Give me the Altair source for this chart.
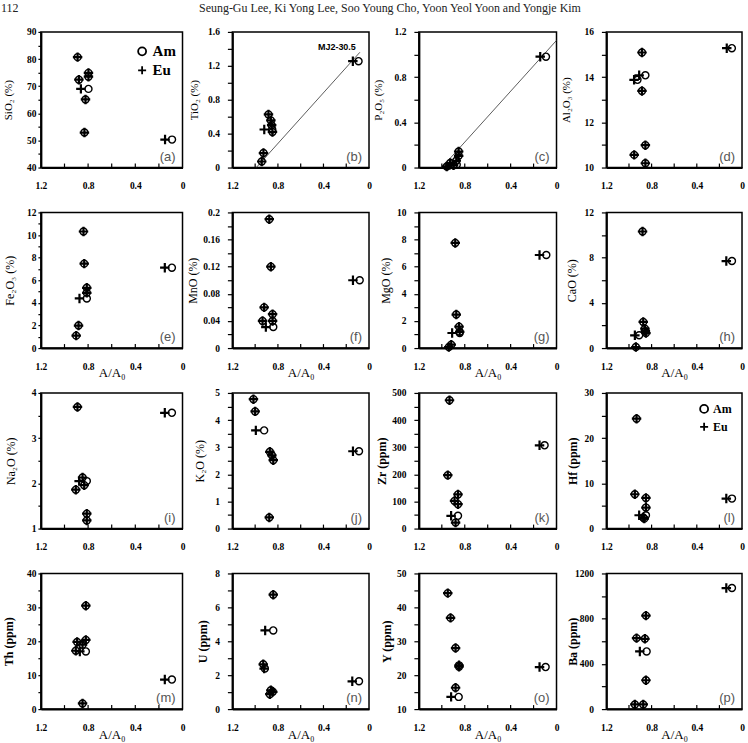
import altair as alt
import pandas as pd

SERIF = "Liberation Serif"
SANS = "Liberation Sans"
METHODS = ["Am", "Eu"]
PLUS = "M-1,0L1,0M0,-1L0,1"

# Running head of the page
PAGE_NUMBER = "112"
AUTHORS = "Seung-Gu Lee, Ki Yong Lee, Soo Young Cho, Yoon Yeol Yoon and Yongje Kim"

# Concentration of each sample with its A/A0 from the Am and the Eu tracer
SIO2 = [80.7, 72.4, 74.9, 73.5, 69.0, 65.1, 52.9, 50.3]
SIO2_AM = [0.889, 0.878, 0.797, 0.797, 0.797, 0.822, 0.831, 0.089]
SIO2_EU = [0.889, 0.878, 0.797, 0.797, 0.861, 0.822, 0.831, 0.148]

TIO2 = [0.627, 0.556, 0.50, 0.449, 0.42, 0.171, 0.071, 1.255]
TIO2_AM = [0.883, 0.862, 0.855, 0.85, 0.848, 0.927, 0.942, 0.092]
TIO2_EU = [0.883, 0.862, 0.855, 0.92, 0.848, 0.927, 0.942, 0.142]

P2O5 = [0.142, 0.104, 0.06, 0.04, 0.024, 0.01, 0.02, 0.981]
P2O5_AM = [0.853, 0.853, 0.874, 0.927, 0.87, 0.957, 0.898, 0.092]
P2O5_EU = [0.853, 0.853, 0.874, 0.927, 0.93, 0.957, 0.898, 0.142]

AL2O3 = [15.09, 13.88, 14.08, 13.39, 10.99, 10.56, 10.19, 15.28]
AL2O3_AM = [0.885, 0.925, 0.855, 0.885, 0.855, 0.954, 0.855, 0.09]
AL2O3_EU = [0.885, 0.955, 0.91, 0.885, 0.855, 0.954, 0.855, 0.135]

FE2O3 = [10.31, 7.47, 5.33, 4.89, 4.39, 1.99, 1.10, 7.11]
FE2O3_AM = [0.839, 0.833, 0.811, 0.811, 0.811, 0.881, 0.901, 0.090]
FE2O3_EU = [0.839, 0.833, 0.811, 0.811, 0.873, 0.881, 0.901, 0.150]

MNO = [0.190, 0.120, 0.060, 0.050, 0.040, 0.040, 0.031, 0.100]
MNO_AM = [0.876, 0.862, 0.921, 0.847, 0.935, 0.847, 0.841, 0.082]
MNO_EU = [0.876, 0.862, 0.921, 0.847, 0.935, 0.847, 0.906, 0.141]

MGO = [7.75, 2.47, 1.58, 1.20, 1.11, 0.25, 0.07, 6.86]
MGO_AM = [0.883, 0.874, 0.850, 0.844, 0.844, 0.918, 0.939, 0.089]
MGO_EU = [0.883, 0.874, 0.850, 0.844, 0.910, 0.918, 0.939, 0.148]

CAO = [10.31, 2.31, 1.72, 1.50, 1.33, 1.13, 0.09, 7.70]
CAO_AM = [0.880, 0.874, 0.859, 0.855, 0.850, 0.910, 0.939, 0.089]
CAO_EU = [0.880, 0.874, 0.859, 0.855, 0.850, 0.948, 0.939, 0.139]

NA2O = [3.69, 2.13, 1.96, 2.05, 1.86, 1.33, 1.18, 3.56]
NA2O_AM = [0.890, 0.847, 0.833, 0.811, 0.904, 0.811, 0.811, 0.090]
NA2O_EU = [0.890, 0.847, 0.833, 0.876, 0.904, 0.811, 0.811, 0.150]

K2O = [4.77, 4.32, 3.62, 2.83, 2.70, 2.52, 0.41, 2.85]
K2O_AM = [1.015, 1.000, 0.921, 0.871, 0.853, 0.841, 0.876, 0.088]
K2O_EU = [1.015, 1.000, 0.994, 0.871, 0.853, 0.841, 0.876, 0.141]

ZR = [473, 197, 126, 102, 90, 47, 22, 307]
ZR_AM = [0.933, 0.948, 0.859, 0.889, 0.859, 0.859, 0.880, 0.104]
ZR_EU = [0.933, 0.948, 0.859, 0.889, 0.859, 0.919, 0.880, 0.148]

HF = [24.3, 7.59, 6.78, 4.64, 2.95, 2.43, 2.20, 6.63]
HF_AM = [0.933, 0.948, 0.850, 0.850, 0.850, 0.874, 0.865, 0.089]
HF_EU = [0.933, 0.948, 0.850, 0.850, 0.910, 0.874, 0.865, 0.139]

TH = [30.5, 20.4, 19.8, 19.0, 17.2, 17.0, 1.66, 8.70]
TH_AM = [0.819, 0.819, 0.893, 0.847, 0.904, 0.819, 0.847, 0.090]
TH_EU = [0.819, 0.819, 0.893, 0.847, 0.904, 0.870, 0.847, 0.150]

U = [6.75, 4.64, 2.64, 2.39, 1.11, 1.02, 0.88, 1.64]
U_AM = [0.841, 0.841, 0.929, 0.915, 0.862, 0.845, 0.871, 0.088]
U_EU = [0.841, 0.912, 0.929, 0.921, 0.862, 0.845, 0.871, 0.147]

Y = [44.2, 36.9, 28.0, 22.9, 22.5, 16.3, 13.6, 22.4]
Y_AM = [0.948, 0.924, 0.880, 0.850, 0.850, 0.880, 0.853, 0.095]
Y_EU = [0.948, 0.924, 0.880, 0.850, 0.850, 0.880, 0.919, 0.148]

BA = [827, 628, 622, 510, 255, 41, 41, 1071]
BA_AM = [0.850, 0.933, 0.859, 0.844, 0.850, 0.948, 0.874, 0.089]
BA_EU = [0.850, 0.933, 0.859, 0.904, 0.850, 0.948, 0.874, 0.139]

# Trend lines through the low-A/A0 samples and MJ2-30.5
TIO2_FIT_X = [0.99, 0.08]
TIO2_FIT_Y = [0.0, 1.36]
P2O5_FIT_X = [1.0, 0.0]
P2O5_FIT_Y = [0.0, 1.125]
MJ2_LABEL = "MJ2-30.5"

X_LABELS = [1.2, 0.8, 0.4, 0.0]
X_MINOR = [1.0, 0.8, 0.6, 0.4, 0.2]
X_TITLE = "A/A₀"

PANELS = [
    dict(tag="a", title="SiO₂ (%)", v=SIO2, am=SIO2_AM, eu=SIO2_EU, dom=(40, 90), major=10, minor=5, tx=-32, bold=False,
         legend=(94, 12, 15)),
    dict(tag="b", title="TiO₂ (%)", v=TIO2, am=TIO2_AM, eu=TIO2_EU, dom=(0, 1.6), major=0.4, minor=0.2, tx=-38, bold=False,
         fit=(TIO2_FIT_X, TIO2_FIT_Y), note=True),
    dict(tag="c", title="P₂O₅ (%)", v=P2O5, am=P2O5_AM, eu=P2O5_EU, dom=(0, 1.2), major=0.4, minor=0.2, tx=-40, bold=False,
         fit=(P2O5_FIT_X, P2O5_FIT_Y)),
    dict(tag="d", title="Al₂O₃ (%)", v=AL2O3, am=AL2O3_AM, eu=AL2O3_EU, dom=(10, 16), major=2, minor=1, tx=-40, bold=False),
    dict(tag="e", title="Fe₂O₃ (%)", v=FE2O3, am=FE2O3_AM, eu=FE2O3_EU, dom=(0, 12), major=2, minor=1, tx=-31, bold=False),
    dict(tag="f", title="MnO (%)", v=MNO, am=MNO_AM, eu=MNO_EU, dom=(0, 0.2), major=0.04, minor=0.02, tx=-40, bold=False),
    dict(tag="g", title="MgO (%)", v=MGO, am=MGO_AM, eu=MGO_EU, dom=(0, 10), major=2, minor=1, tx=-33, bold=False),
    dict(tag="h", title="CaO (%)", v=CAO, am=CAO_AM, eu=CAO_EU, dom=(0, 12), major=4, minor=2, tx=-35, bold=False),
    dict(tag="i", title="Na₂O (%)", v=NA2O, am=NA2O_AM, eu=NA2O_EU, dom=(1, 4), major=1, minor=0.5, tx=-30, bold=False),
    dict(tag="j", title="K₂O (%)", v=K2O, am=K2O_AM, eu=K2O_EU, dom=(0, 5), major=1, minor=0.5, tx=-33, bold=False),
    dict(tag="k", title="Zr (ppm)", v=ZR, am=ZR_AM, eu=ZR_EU, dom=(0, 500), major=100, minor=50, tx=-37, bold=True),
    dict(tag="l", title="Hf (ppm)", v=HF, am=HF_AM, eu=HF_EU, dom=(0, 30), major=10, minor=5, tx=-34, bold=True,
         legend=(92, 10, 12)),
    dict(tag="m", title="Th (ppm)", v=TH, am=TH_AM, eu=TH_EU, dom=(0, 40), major=10, minor=5, tx=-32, bold=True),
    dict(tag="n", title="U (ppm)", v=U, am=U_AM, eu=U_EU, dom=(0, 8), major=2, minor=1, tx=-30, bold=True),
    dict(tag="o", title="Y (ppm)", v=Y, am=Y_AM, eu=Y_EU, dom=(10, 50), major=10, minor=5, tx=-32, bold=True),
    dict(tag="p", title="Ba (ppm)", v=BA, am=BA_AM, eu=BA_EU, dom=(0, 1200), major=400, minor=200, tx=-34, bold=True),
]

COL_W = [142, 137, 138, 136]
ROW_H = 136
X_TITLE_ROWS = {1, 3}


def build_panel(idx, p):
    col, row = idx % 4, idx // 4
    w, h = COL_W[col], ROW_H
    n = len(p["v"])
    pts = pd.DataFrame({
        "ratio": list(p["am"]) + list(p["eu"]),
        "value": list(p["v"]) * 2,
        "method": ["Am"] * n + ["Eu"] * n,
    })

    lo, hi = p["dom"]
    steps = int(round((hi - lo) / p["minor"]))
    yticks = [round(lo + k * p["minor"], 6) for k in range(steps + 1)]
    major = p["major"]
    label_expr = (f"abs(datum.value / {major} - round(datum.value / {major})) < 1e-6"
                  f" ? format(datum.value, '.4~f') : ''")
    first_col = col == 0

    x_scale = alt.Scale(domain=[0, 1.2], reverse=True, nice=False, zero=False)
    y_scale = alt.Scale(domain=[lo, hi], nice=False, zero=False)

    x_axis_kw = dict(
        values=X_LABELS, format=".4~f", ticks=False, labelFlush=False, labelPadding=13,
        labelFont=SERIF, labelFontSize=9.5, labelFontWeight="bold", labelColor="black",
        domainColor="black", domainWidth=2, grid=False,
    )
    if row in X_TITLE_ROWS:
        x_axis_kw.update(titleFont=SERIF, titleFontSize=13, titleFontWeight="normal",
                         titleColor="black", titleY=25, titleBaseline="middle")
    x_axis = alt.Axis(**x_axis_kw)

    y_axis = alt.Axis(
        values=yticks, labelExpr=label_expr, labelOverlap=False,
        tickSize=3 if first_col else 5, tickWidth=1.2, tickColor="black",
        labelPadding=2 if first_col else 8,
        labelFont=SERIF, labelFontSize=9.5, labelFontWeight="bold", labelColor="black",
        domainColor="black", domainWidth=2, grid=False,
        titleFont=SERIF, titleFontSize=11 if row == 0 else 12, titleColor="black",
        titleFontWeight="bold" if p["bold"] else "normal",
        titleX=p["tx"], titleBaseline="middle",
    )

    x_title = X_TITLE if row in X_TITLE_ROWS else None

    def enc_x():
        return alt.X("ratio:Q", scale=x_scale, axis=x_axis, title=x_title)

    def enc_y():
        return alt.Y("value:Q", scale=y_scale, axis=y_axis, title=p["title"])

    if "legend" in p:
        lx, ly, fs = p["legend"]
        legend = alt.Legend(
            title=None, orient="none", legendX=lx, legendY=ly, padding=0,
            labelFont=SERIF, labelFontSize=fs, labelFontWeight="bold", labelColor="black",
            symbolSize=64, symbolStrokeWidth=1.8, symbolStrokeColor="black",
            symbolFillColor="transparent", rowPadding=2, labelOffset=3,
        )
    else:
        legend = None

    is_am = alt.datum.method == "Am"
    points = alt.Chart(pts).mark_point(filled=False, color="black", opacity=1).encode(
        x=enc_x(),
        y=enc_y(),
        shape=alt.Shape("method:N", scale=alt.Scale(domain=METHODS, range=["circle", PLUS]),
                        legend=legend),
        size=alt.condition(is_am, alt.value(50), alt.value(90)),
        strokeWidth=alt.condition(is_am, alt.value(1.4), alt.value(2.2)),
    )

    # inward minor ticks along A/A0
    ticks = alt.Chart(pd.DataFrame({"ratio": X_MINOR})).mark_rule(
        color="black", strokeWidth=1.2
    ).encode(
        x=enc_x(),
        y=alt.value(h), y2=alt.value(h - 4),
    )

    tag = alt.Chart(pd.DataFrame({"tag": [f"({p['tag']})"]})).mark_text(
        align="right", baseline="bottom", font=SANS, fontSize=13, color="#555555"
    ).encode(text="tag:N", x=alt.value(w - 7), y=alt.value(h - 4))

    layers = []
    if "fit" in p:
        fx, fy = p["fit"]
        fit = alt.Chart(pd.DataFrame({"ratio": fx, "value": fy})).mark_line(
            color="#333333", strokeWidth=0.8
        ).encode(x=enc_x(), y=enc_y())
        layers.append(fit)
    layers += [ticks, points, tag]

    if p.get("note"):
        note = alt.Chart(pd.DataFrame({
            "ratio": [p["eu"][-1]], "value": [p["v"][-1]], "label": [MJ2_LABEL]
        })).mark_text(font=SANS, fontSize=9, fontWeight="bold", color="black",
                      dx=-16, dy=-14).encode(x=enc_x(), y=enc_y(), text="label:N")
        layers.append(note)

    if idx == 0:
        head = pd.DataFrame({"page": [PAGE_NUMBER], "authors": [AUTHORS]})
        layers.append(alt.Chart(head).mark_text(
            align="left", baseline="alphabetic", font=SERIF, fontSize=12, color="#222222"
        ).encode(text="page:N", x=alt.value(-40), y=alt.value(-20)))
        layers.append(alt.Chart(head).mark_text(
            align="center", baseline="alphabetic", font=SERIF, fontSize=12, color="#222222"
        ).encode(text="authors:N", x=alt.value(350), y=alt.value(-20)))

    return alt.layer(*layers).properties(width=w, height=h)


panels = [build_panel(i, p) for i, p in enumerate(PANELS)]

chart = (
    alt.concat(*panels, columns=4, spacing={"row": 45, "column": 50}, bounds="flush")
    .resolve_scale(shape="independent")
    .resolve_legend(shape="independent")
    .configure_view(stroke="black", strokeWidth=1.5)
    .properties(padding={"left": 0, "top": 0, "right": 2, "bottom": 0}, background="white")
)

chart.save("out.html", embed_options={"renderer": "svg", "actions": False})
